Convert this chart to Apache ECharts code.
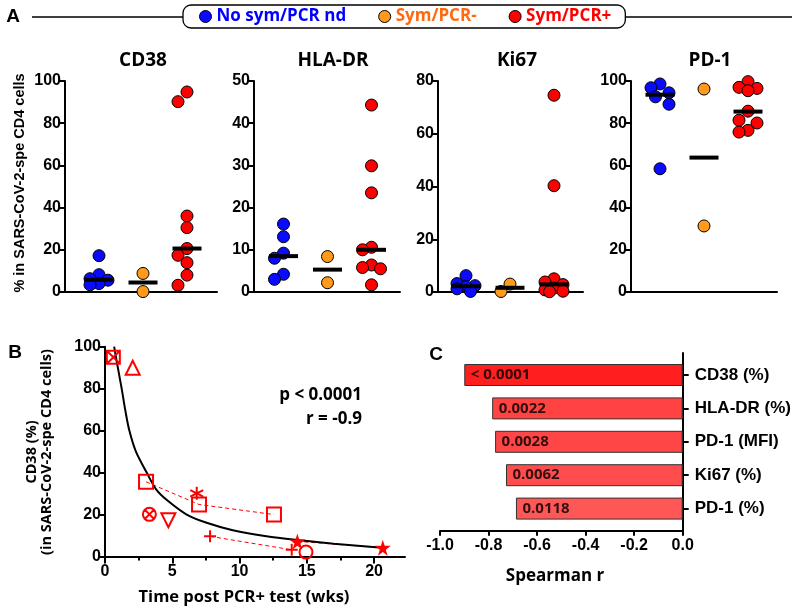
<!DOCTYPE html>
<html><head><meta charset="utf-8">
<script src="https://cdn.jsdelivr.net/npm/echarts@6/dist/echarts.min.js"></script>
<style>html,body{margin:0;padding:0;background:#fff}#c{width:800px;height:614px}</style>
</head><body><div id="c"></div>
<script>
// ---------------- DATA ----------------
const groups = ['No sym/PCR nd', 'Sym/PCR-', 'Sym/PCR+'];
const panelTitles = ['CD38', 'HLA-DR', 'Ki67', 'PD-1'];
const yMaxA = [100, 50, 80, 100];
const yStepA = [20, 10, 20, 20];

const cd38NoSym = [17.2, 8.2, 6.3, 5.6, 4.0, 3.4];
const cd38SymNeg = [8.8, 0.2];
const cd38SymPos = [94.8, 90.2, 36.0, 30.5, 20.6, 17.4, 13.9, 8.0, 3.2];
const cd38Medians = [5.8, 4.5, 20.6];

const hladrNoSym = [16.1, 13.1, 9.2, 8.0, 4.2, 3.0];
const hladrSymNeg = [8.4, 2.2];
const hladrSymPos = [44.3, 29.9, 23.5, 10.6, 10.0, 6.4, 5.8, 5.5, 1.7];
const hladrMedians = [8.5, 5.3, 10.0];

const ki67NoSym = [6.2, 3.2, 2.4, 2.0, 1.2, 0.2];
const ki67SymNeg = [0.2, 3.0];
const ki67SymPos = [74.6, 40.3, 5.0, 3.8, 2.8, 1.5, 0.8, 0.3, 0.1];
const ki67Medians = [2.2, 1.6, 2.9];

const pd1NoSym = [98.6, 96.8, 94.4, 92.5, 89.0, 58.4];
const pd1SymNeg = [96.2, 31.3];
const pd1SymPos = [99.7, 97.0, 96.5, 95.4, 85.7, 81.4, 80.1, 76.6, 75.8];
const pd1Medians = [93.5, 63.7, 85.5];

// Panel B
const bTime = [0.62, 2.06, 3.05, 3.30, 4.71, 6.82, 6.99, 7.81, 12.56, 13.88, 14.30, 14.94, 20.65];
const bCD38 = [95.0, 90.0, 35.6, 20.1, 17.3, 30.1, 24.8, 9.6, 20.0, 3.2, 7.2, 2.1, 4.2];
const bSubject = ['P1', 'P2', 'P3', 'P4', 'P5', 'P6', 'P3', 'P7', 'P3', 'P7', 'P8', 'P9', 'P8'];
const fitTime = [0.68, 0.9, 1.24, 1.5, 1.81, 2.3, 3.1, 3.8, 4.6, 6.07, 7.5, 9.5, 12, 14.5, 17, 20.6];
const fitCD38 = [100, 92, 80, 70, 60, 50, 40, 32, 26.9, 20, 16.2, 12.5, 9.6, 7.7, 6.1, 4.2];
const bXTicks = [0, 5, 10, 15, 20];
const bXMinorTicks = [2.5, 7.5, 12.5, 17.5];

// Panel C
const cMarkers = ['CD38 (%)', 'HLA-DR (%)', 'PD-1 (MFI)', 'Ki67 (%)', 'PD-1 (%)'];
const cSpearman = [-0.90, -0.785, -0.773, -0.728, -0.687];
const cPvalue = ['< 0.0001', '0.0022', '0.0028', '0.0062', '0.0118'];

// ---------------- STYLE / LAYOUT ----------------
const panelValues = [
  [cd38NoSym, cd38SymNeg, cd38SymPos],
  [hladrNoSym, hladrSymNeg, hladrSymPos],
  [ki67NoSym, ki67SymNeg, ki67SymPos],
  [pd1NoSym, pd1SymNeg, pd1SymPos]
];
const panelMedians = [cd38Medians, hladrMedians, ki67Medians, pd1Medians];
const groupColors = ['#0a0aff', '#ff9a1a', '#ff0000'];
const groupTextColors = ['#0000ff', '#ff6a10', '#ff0000'];
const panelLeft = [65, 254, 438, 631];
const panelLen = [152, 146, 145, 146];
const firstOffset = [34, 29.5, 28, 29];
const catStep = 44;
const aTop = 81, aBottom = 292, aH = aBottom - aTop;

const NUM = '"Liberation Sans", Arial, sans-serif';
const CAL = '"Open Sans", sans-serif';
const TICKFONT = { color: '#000', fontFamily: NUM, fontWeight: 'bold', fontSize: 16 };

function swarm(values, center, pxPerUnit) {
  const order = values.map((v, i) => i).sort((a, b) => values[b] - values[a]);
  const placed = [];
  const out = new Array(values.length);
  const cands = [0, -9, 9, -4.5, 4.5];
  order.forEach(i => {
    const y = values[i] * pxPerUnit;
    let best = 0, bestD = -1;
    for (const c of cands) {
      let md = Infinity;
      placed.forEach(p => { const d = Math.hypot(p[0] - c, p[1] - y); if (d < md) md = d; });
      if (md >= 11) { best = c; bestD = md; break; }
      if (md > bestD) { bestD = md; best = c; }
    }
    placed.push([best, y]);
    out[i] = [center + best, values[i]];
  });
  return out;
}

const grids = [], xAxes = [], yAxes = [], series = [], graphics = [];

// Panel A
panelTitles.forEach((t, p) => {
  grids.push({ left: panelLeft[p], top: aTop, width: panelLen[p], height: aH });
  xAxes.push({ gridIndex: p, type: 'value', min: 0, max: panelLen[p],
    axisLine: { show: true, lineStyle: { color: '#000', width: 2 } },
    axisTick: { show: false }, axisLabel: { show: false }, splitLine: { show: false } });
  yAxes.push({ gridIndex: p, type: 'value', min: 0, max: yMaxA[p], interval: yStepA[p],
    axisLine: { show: true, lineStyle: { color: '#000', width: 2 } },
    axisTick: { show: true, length: 6, lineStyle: { color: '#000', width: 2 } },
    axisLabel: Object.assign({ margin: 4 }, TICKFONT),
    splitLine: { show: false } });
  const ppu = aH / yMaxA[p];
  groups.forEach((g, gi) => {
    const center = firstOffset[p] + gi * catStep;
    series.push({ type: 'scatter', name: g, xAxisIndex: p, yAxisIndex: p,
      data: swarm(panelValues[p][gi], center, ppu), symbolSize: 12,
      itemStyle: { color: groupColors[gi], borderColor: '#000', borderWidth: 1, opacity: 1 },
      z: 3 });
  });
  series.push({ type: 'scatter', name: 'median', xAxisIndex: p, yAxisIndex: p,
    data: panelMedians[p].map((m, gi) => [firstOffset[p] + gi * catStep, m]),
    symbol: 'rect', symbolSize: [29, 4], itemStyle: { color: '#000', opacity: 1 }, z: 5, silent: true });
  graphics.push({ type: 'text', x: panelLeft[p] + (p === 0 ? 78 : 79), y: 61, z: 10,
    style: { text: t, font: 'bold 19px ' + CAL, fill: '#000', align: 'center', verticalAlign: 'middle', textAlign: 'center', textVerticalAlign: 'middle' } });
});

// Panel B
grids.push({ left: 105, right: 395, top: 346.7, bottom: 57.5 });
xAxes.push({ gridIndex: 4, type: 'value', min: 0, max: 22.3, position: 'bottom',
  axisLine: { show: true, lineStyle: { color: '#000', width: 2 } },
  axisTick: { show: true, length: 7, customValues: bXTicks, lineStyle: { color: '#000', width: 2 } },
  axisLabel: Object.assign({ customValues: bXTicks, margin: 7 }, TICKFONT),
  splitLine: { show: false } });
xAxes.push({ gridIndex: 4, type: 'value', min: 0, max: 22.3, position: 'bottom',
  axisLine: { show: false },
  axisTick: { show: true, length: 4, customValues: bXMinorTicks, lineStyle: { color: '#000', width: 2 } },
  axisLabel: { show: false }, splitLine: { show: false } });
yAxes.push({ gridIndex: 4, type: 'value', min: 0, max: 100, interval: 20,
  axisLine: { show: true, lineStyle: { color: '#000', width: 2 } },
  axisTick: { show: true, length: 6, lineStyle: { color: '#000', width: 2 } },
  axisLabel: Object.assign({ margin: 4 }, TICKFONT),
  splitLine: { show: false } });

const RED = '#ff0000';
const symStyle = {
  P1: { symbol: 'path://M0,0L10,0L10,10L0,10ZM0,0L10,10M10,0L0,10', size: 13, fill: false },
  P2: { symbol: 'triangle', size: 14, fill: false },
  P3: { symbol: 'rect', size: 14, fill: false },
  P4: { symbol: 'path://M0,5A5,5,0,1,1,10,5A5,5,0,1,1,0,5ZM1.6,1.6L8.4,8.4M8.4,1.6L1.6,8.4', size: 13, fill: false },
  P5: { symbol: 'triangle', size: 14, fill: false, rotate: 180 },
  P6: { symbol: 'path://M5,0L5,10M0.7,2.5L9.3,7.5M9.3,2.5L0.7,7.5', size: 13, fill: false },
  P7: { symbol: 'path://M5,0L5,10M0,5L10,5', size: 12, fill: false },
  P8: { symbol: 'path://M50,0L61,35L98,35L68,57L79,91L50,70L21,91L32,57L2,35L39,35Z', size: 16, fill: true },
  P9: { symbol: 'circle', size: 13, fill: false }
};

series.push({ type: 'line', name: 'fit', xAxisIndex: 4, yAxisIndex: 4,
  data: fitTime.map((t, i) => [t, fitCD38[i]]), smooth: 0.3,
  showSymbol: false, symbol: 'none',
  lineStyle: { color: '#000', width: 2 }, z: 2, silent: true });

const subjects = [...new Set(bSubject)];
subjects.forEach(s => {
  const pts = bTime.map((t, i) => [t, bCD38[i], bSubject[i]]).filter(d => d[2] === s).sort((a, b) => a[0] - b[0]);
  if (pts.length > 1) {
    series.push({ type: 'line', name: 'subj ' + s, xAxisIndex: 4, yAxisIndex: 4,
      data: pts.map(d => [d[0], d[1]]), symbol: 'none', silent: true,
      lineStyle: { color: RED, width: 1, type: [4, 3] }, z: 1 });
  }
});

series.push({ type: 'scatter', name: 'CD38 vs time', xAxisIndex: 4, yAxisIndex: 4, z: 4,
  data: bTime.map((t, i) => {
    const st = symStyle[bSubject[i]];
    return { value: [t, bCD38[i]], symbol: st.symbol, symbolSize: st.size, symbolRotate: st.rotate || 0,
      itemStyle: st.fill ? { color: RED, borderWidth: 0, opacity: 1 } : { color: 'rgba(255,255,255,0)', borderColor: RED, borderWidth: 2, opacity: 1 } };
  }) });

// Panel C
grids.push({ left: 440, right: 117.3, top: 353, bottom: 83.3 });
grids.push({ left: 440, right: 117.3, top: 358.3, height: 167 });
xAxes.push({ gridIndex: 5, type: 'value', min: -1, max: 0, interval: 0.2,
  axisLine: { show: true, onZero: false, lineStyle: { color: '#000', width: 2 } },
  axisTick: { show: true, length: 5, lineStyle: { color: '#000', width: 2 } },
  axisLabel: Object.assign({ margin: 7, formatter: v => (Math.abs(v) < 1e-9 ? 0 : v).toFixed(1) }, TICKFONT),
  splitLine: { show: false } });
xAxes.push({ gridIndex: 6, type: 'value', min: -1, max: 0, show: false });
yAxes.push({ gridIndex: 5, type: 'value', min: 0, max: 1, position: 'right',
  axisLine: { show: true, onZero: false, lineStyle: { color: '#000', width: 2 } },
  axisTick: { show: false }, axisLabel: { show: false }, splitLine: { show: false } });
yAxes.push({ gridIndex: 6, type: 'category', data: cMarkers, inverse: true, position: 'right',
  axisLine: { show: false },
  axisTick: { show: true, alignWithLabel: true, length: 6, lineStyle: { color: '#000', width: 2 } },
  axisLabel: { color: '#000', fontFamily: NUM, fontWeight: 'bold', fontSize: 17, margin: 12 } });

const barColors = ['#ff1f1f', '#ff4343', '#ff4646', '#ff4c4c', '#ff5656'];
series.push({ type: 'bar', name: 'Spearman r', xAxisIndex: 7, yAxisIndex: 6, barWidth: 22,
  data: cSpearman.map((v, i) => ({ value: v, itemStyle: { color: barColors[i] } })),
  itemStyle: { borderColor: '#333', borderWidth: 1 }, silent: true, z: 2 });
series.push({ type: 'scatter', name: 'p', xAxisIndex: 7, yAxisIndex: 6, symbolSize: 1,
  itemStyle: { color: 'rgba(0,0,0,0)' }, silent: true, z: 5,
  data: cSpearman.map((v, i) => [v, cMarkers[i]]),
  label: { show: true, position: 'right', distance: 6, color: '#000',
    fontFamily: CAL, fontWeight: 'bold', fontSize: 15,
    formatter: p => cPvalue[p.dataIndex] } });

// ---------------- GRAPHICS ----------------
function txt(x, y, text, size, family, align, rot) {
  return { type: 'text', x: x, y: y, rotation: rot || 0, z: 10,
    style: { text: text, font: 'bold ' + size + 'px ' + family, fill: '#000',
      align: align || 'center', verticalAlign: 'middle', textAlign: align || 'center', textVerticalAlign: 'middle' } };
}
graphics.push(txt(13, 17, 'A', 19, NUM));
graphics.push(txt(15, 353, 'B', 19, NUM));
graphics.push(txt(436, 355, 'C', 19, NUM));
graphics.push({ type: 'line', shape: { x1: 32, y1: 17, x2: 183, y2: 17 }, style: { stroke: '#000', lineWidth: 1.5 } });
graphics.push({ type: 'line', shape: { x1: 622, y1: 17, x2: 792, y2: 17 }, style: { stroke: '#000', lineWidth: 1.5 } });
graphics.push(txt(20, 183, '% in SARS-CoV-2-spe CD4 cells', 14.5, NUM, 'center', Math.PI / 2));
graphics.push(txt(39, 452, 'CD38 (%)\n(in SARS-CoV-2-spe CD4 cells)', 14.5, CAL, 'center', Math.PI / 2));
graphics.push(txt(244, 597, 'Time post PCR+ test (wks)', 16.5, CAL));
graphics.push(txt(362, 395, 'p < 0.0001', 17, CAL, 'right'));
graphics.push(txt(362, 419, 'r = -0.9', 17, CAL, 'right'));
graphics.push(txt(555, 576, 'Spearman r', 17, CAL));

const chart = echarts.init(document.getElementById('c'), null, { renderer: 'canvas' });
chart.setOption({
  animation: false,
  backgroundColor: '#fff',
  legend: {
    data: groups.map((g, i) => ({ name: g, icon: 'circle',
      itemStyle: { color: groupColors[i], borderColor: '#000', borderWidth: 1 },
      textStyle: { color: groupTextColors[i] } })),
    left: 183, top: 5, padding: [3, 14, 3, 16], itemGap: 32, itemWidth: 12, itemHeight: 12,
    borderColor: '#000', borderWidth: 1.3, borderRadius: 8, backgroundColor: '#fff',
    selectedMode: false,
    textStyle: { fontFamily: CAL, fontWeight: 'bold', fontSize: 17 }
  },
  grid: grids.map(g => Object.assign({ containLabel: false, outerBoundsMode: 'none' }, g)),
  xAxis: xAxes,
  yAxis: yAxes,
  series: series,
  graphic: { elements: graphics }
});
</script></body></html>
